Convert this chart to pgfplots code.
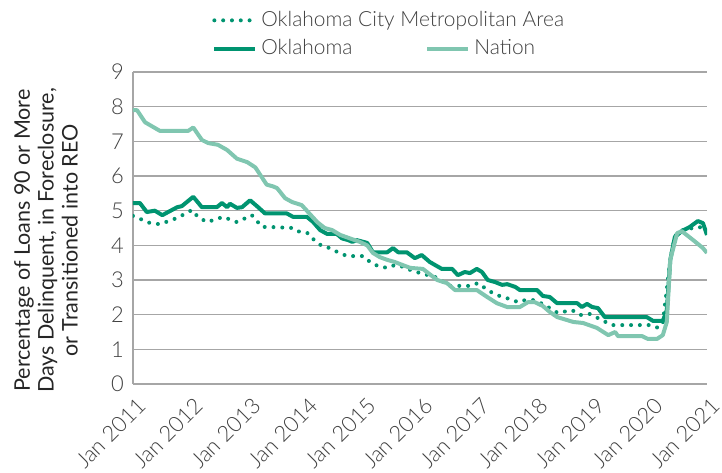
\documentclass[border=0pt]{standalone}
\usepackage{pgfplots}
\pgfplotsset{compat=1.18}
\usepackage{fontspec}
\setmainfont{Lato}[UprightFont=* Light]
\newfontfamily\regfont{Lato}
\usetikzlibrary{calc}
\definecolor{okdark}{RGB}{0,148,112}
\definecolor{nation}{RGB}{128,198,176}
\definecolor{txt}{RGB}{64,64,64}
\definecolor{gridc}{RGB}{166,166,166}
\begin{document}
\begin{tikzpicture}
\begin{axis}[
  scale only axis, width=287bp, height=156bp,
  xmin=0, xmax=10, ymin=0, ymax=9,
  xtick={0,1,...,10},
  xticklabels={Jan 2011,Jan 2012,Jan 2013,Jan 2014,Jan 2015,Jan 2016,Jan 2017,Jan 2018,Jan 2019,Jan 2020,Jan 2021},
  ytick={0,1,...,9},
  major tick length=0pt,
  ymajorgrids, grid style={gridc, line width=0.75bp},
  axis x line*=bottom, axis y line*=left,
  axis line style={gridc, line width=0.75bp},
  tick label style={font=\fontsize{11}{13}\selectfont, text=txt},
  yticklabel style={xshift=-1bp},
  /pgf/number format/assume math mode=true,
  xticklabel style={xshift=7bp, yshift=-6.5bp, rotate=45, anchor=east},
  ylabel={Percentage of Loans 90 or More\\Days Delinquent, in Foreclosure,\\or Transitioned into REO},
  every axis y label/.style={at={(axis description cs:-0.1516,0.46)}, rotate=90, anchor=center, align=center, font=\regfont\fontsize{10.8}{12}\selectfont, text=black!85},
  legend columns=2,
  legend style={at={(axis description cs:0,1)}, anchor=south west, xshift=36.5bp, yshift=3bp, draw=none, fill=none, font=\fontsize{10.5}{13}\selectfont, text=txt, row sep=1bp, /tikz/every even column/.append style={column sep=2bp}, nodes={inner xsep=2bp}},
  legend cell align=left,
  legend image code/.code={\draw[#1] (0bp,0bp) -- (20.5bp,0bp);},
]
\coordinate (bl) at (rel axis cs:0,0);
\coordinate (tr) at (rel axis cs:1,1);
% OKC metro
\addplot[okdark, line width=2bp, line cap=round, dash pattern=on 0bp off 4.4bp] coordinates {
(0,4.85) (0.087,4.79) (0.30,4.64) (0.47,4.61) (0.77,4.79) (1.03,5.02) (1.13,4.82) (1.29,4.67)
(1.57,4.82) (1.81,4.67) (2.07,4.87) (2.25,4.53) (2.39,4.53) (2.79,4.5) (2.91,4.38) (3.05,4.35)
(3.14,4.18) (3.29,3.98) (3.43,3.92) (3.57,3.8) (3.73,3.69) (4.01,3.69) (4.13,3.52) (4.27,3.4)
(4.43,3.35) (4.56,3.43) (4.74,3.37) (4.83,3.29) (5.0,3.2) (5.26,3.09) (5.52,2.83) (5.87,2.83)
(6.01,2.91) (6.13,2.77) (6.27,2.62) (6.43,2.51) (6.57,2.45) (6.71,2.36) (6.83,2.42) (6.97,2.42)
(7.14,2.31) (7.26,2.19) (7.40,2.05) (7.49,2.08) (7.65,2.13) (7.79,1.99) (7.96,2.02) (8.10,1.9)
(8.34,1.7) (9.01,1.7) (9.15,1.62) (9.23,1.76) (9.36,3.58) (9.44,4.27) (9.58,4.44) (9.84,4.53)
(9.97,4.5) (10.0,4.55)
};
\addlegendentry{\makebox[78bp][l]{Oklahoma City Metropolitan Area}}
\addlegendimage{empty legend}
\addlegendentry{}
% Oklahoma
\addplot[okdark, line width=2bp, line join=round] coordinates {
(0,5.22) (0.12,5.22) (0.24,4.96) (0.38,5.0) (0.51,4.87) (0.77,5.1) (0.85,5.13) (1.05,5.4)
(1.20,5.1) (1.46,5.1) (1.55,5.22) (1.64,5.1) (1.69,5.2) (1.81,5.08) (1.90,5.1) (2.04,5.3)
(2.18,5.1) (2.30,4.92) (2.68,4.92) (2.79,4.82) (3.03,4.82) (3.14,4.67) (3.26,4.44) (3.38,4.33)
(3.55,4.33) (3.64,4.2) (3.75,4.15) (3.82,4.1) (3.90,4.15) (4.08,4.07) (4.18,3.8) (4.43,3.8)
(4.53,3.92) (4.62,3.8) (4.77,3.8) (4.91,3.63) (5.03,3.72) (5.17,3.52) (5.38,3.32) (5.56,3.32)
(5.66,3.14) (5.78,3.23) (5.87,3.2) (5.99,3.32) (6.08,3.23) (6.18,3.0) (6.31,2.94) (6.43,2.86)
(6.52,2.88) (6.66,2.8) (6.74,2.71) (7.04,2.71) (7.14,2.54) (7.26,2.51) (7.39,2.33) (7.74,2.33)
(7.82,2.22) (7.91,2.31) (8.0,2.22) (8.10,2.19) (8.22,1.93) (8.95,1.93) (9.06,1.82) (9.23,1.82)
(9.30,2.13) (9.36,3.58) (9.44,4.24) (9.56,4.41) (9.70,4.53) (9.84,4.7) (9.93,4.64) (10.0,4.3)
};
\addlegendentry{\makebox[78bp][l]{Oklahoma}}
% Nation
\addplot[nation, line width=2bp, line join=round] coordinates {
(0,7.9) (0.07,7.9) (0.21,7.55) (0.47,7.3) (0.96,7.3) (1.05,7.4) (1.20,7.04) (1.31,6.95)
(1.48,6.9) (1.64,6.75) (1.81,6.5) (1.99,6.4) (2.13,6.25) (2.25,5.95) (2.33,5.75) (2.44,5.7)
(2.51,5.65) (2.65,5.36) (2.77,5.25) (2.94,5.16) (3.05,4.96) (3.21,4.67) (3.34,4.5) (3.47,4.44)
(3.61,4.3) (3.78,4.2) (3.95,4.1) (4.08,4.0) (4.18,3.78) (4.30,3.66) (4.43,3.58) (4.56,3.52)
(4.70,3.43) (4.83,3.35) (5.05,3.32) (5.30,3.0) (5.47,2.91) (5.61,2.71) (5.99,2.71) (6.17,2.51)
(6.34,2.33) (6.52,2.22) (6.74,2.22) (6.88,2.36) (7.00,2.36) (7.14,2.25) (7.26,2.08) (7.39,1.93)
(7.67,1.79) (7.84,1.76) (8.08,1.62) (8.28,1.41) (8.40,1.5) (8.45,1.38) (8.87,1.38) (8.97,1.3)
(9.13,1.3) (9.23,1.41) (9.30,1.79) (9.36,3.58) (9.48,4.35) (9.56,4.41) (9.76,4.15) (9.93,3.92)
(10.0,3.78)
};
\addlegendentry{Nation}
\end{axis}
\pgfresetboundingbox
\path ($(bl)+(-66.5bp,-44.5bp)$) rectangle ($(tr)+(7.5bp,36bp)$);
\end{tikzpicture}
\end{document}
